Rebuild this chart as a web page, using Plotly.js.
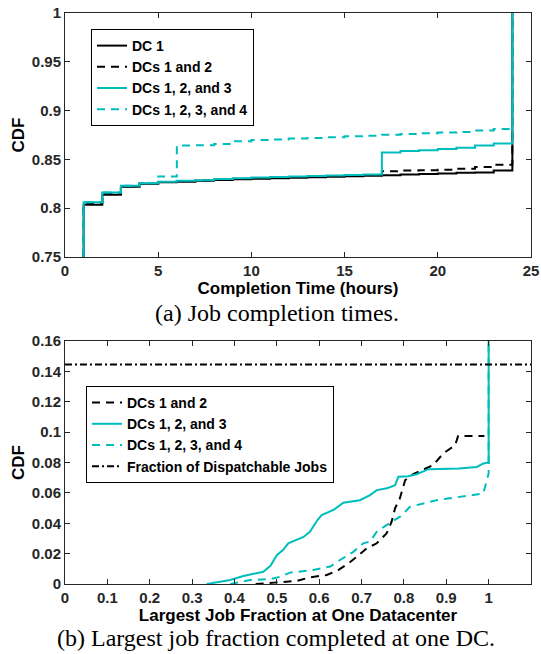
<!DOCTYPE html>
<html>
<head>
<meta charset="utf-8">
<script src="https://cdn.plot.ly/plotly-3.0.1.min.js"></script>
<style>
html,body{margin:0;padding:0;background:#fff;}
#chart{width:541px;height:654px;}
</style>
</head>
<body>
<div id="chart"></div>
<script>
// ---------- (a) Job completion times ----------
var hoursA = [1, 1, 2, 3, 4, 5, 6, 7, 8, 9, 10, 11, 12, 13, 14, 15, 16, 17, 18, 19, 20, 21, 22, 23, 24, 24];
var dc1 = [0.75, 0.8036, 0.8138, 0.8220, 0.8250, 0.8265, 0.8272, 0.8280, 0.8290, 0.8297, 0.8303, 0.8308, 0.8313, 0.8318, 0.8323, 0.8328, 0.8332, 0.8338, 0.8345, 0.8350, 0.8356, 0.8362, 0.8367, 0.8386, 0.8386, 1.0];
var dcs12 = [0.75, 0.8050, 0.8150, 0.8225, 0.8252, 0.8268, 0.8278, 0.8285, 0.8295, 0.8302, 0.8310, 0.8315, 0.8320, 0.8325, 0.8330, 0.8335, 0.8340, 0.8378, 0.8385, 0.8390, 0.8394, 0.8405, 0.8422, 0.8445, 0.8453, 1.0];
var dcs123 = [0.75, 0.8060, 0.8160, 0.8230, 0.8255, 0.8270, 0.8280, 0.8286, 0.8300, 0.8308, 0.8315, 0.8320, 0.8325, 0.8330, 0.8335, 0.8340, 0.8345, 0.8570, 0.8585, 0.8595, 0.8607, 0.8620, 0.8643, 0.8662, 0.8668, 1.0];
var dcs1234 = [0.75, 0.8060, 0.8160, 0.8230, 0.8255, 0.8326, 0.8643, 0.8645, 0.8658, 0.8685, 0.8699, 0.8705, 0.8715, 0.8720, 0.8727, 0.8736, 0.8742, 0.8753, 0.8760, 0.8768, 0.8775, 0.8782, 0.8795, 0.8811, 0.8815, 1.0];

// ---------- (b) Largest job fraction at one DC ----------
var fracB12 = [0.45, 0.5036, 0.547, 0.578, 0.618, 0.645, 0.669, 0.689, 0.712, 0.736, 0.759, 0.771, 0.779, 0.79, 0.803, 0.822, 0.845, 0.869, 0.893, 0.921, 0.928, 0.99];
var cdfB12 = [0, 0.0009, 0.002, 0.0044, 0.0059, 0.0092, 0.0136, 0.018, 0.0235, 0.0268, 0.0333, 0.041, 0.0498, 0.056, 0.0684, 0.0723, 0.075, 0.0783, 0.086, 0.0914, 0.0975, 0.0975];
var fracB123 = [0.3345, 0.36, 0.39, 0.421, 0.468, 0.485, 0.5, 0.515, 0.527, 0.563, 0.578, 0.596, 0.606, 0.635, 0.657, 0.696, 0.72, 0.736, 0.76, 0.779, 0.787, 0.81, 0.83, 0.858, 0.93, 0.972, 0.9876, 1.0, 1.0];
var cdfB123 = [0, 0.001, 0.0026, 0.0053, 0.0081, 0.012, 0.019, 0.0225, 0.0268, 0.031, 0.0344, 0.0421, 0.0454, 0.049, 0.0535, 0.0552, 0.0585, 0.0618, 0.063, 0.0651, 0.0706, 0.071, 0.0723, 0.0756, 0.076, 0.0771, 0.0794, 0.08, 0.16];
var fracB1234 = [0.39, 0.437, 0.484, 0.508, 0.531, 0.586, 0.626, 0.649, 0.68, 0.704, 0.72, 0.736, 0.759, 0.791, 0.807, 0.814, 0.877, 0.95, 0.9875, 1.0, 1.0];
var cdfB1234 = [0, 0.0026, 0.0032, 0.0048, 0.0075, 0.0092, 0.0115, 0.0158, 0.021, 0.0268, 0.028, 0.0344, 0.0388, 0.0443, 0.0487, 0.0508, 0.0552, 0.058, 0.0596, 0.0728, 0.16];
var dispX = [0, 1.1];
var dispY = [0.1445, 0.1445];

var namesA = ['DC 1', 'DCs 1 and 2', 'DCs 1, 2, and 3', 'DCs 1, 2, 3, and 4'];
var namesB = ['DCs 1 and 2', 'DCs 1, 2, and 3', 'DCs 1, 2, 3, and 4', 'Fraction of Dispatchable Jobs'];
var xTicksA = [0, 5, 10, 15, 20, 25];
var yTicksA = [0.75, 0.8, 0.85, 0.9, 0.95, 1];
var xTicksB = [0, 0.1, 0.2, 0.3, 0.4, 0.5, 0.6, 0.7, 0.8, 0.9, 1, 1.1];
var yTicksB = [0, 0.02, 0.04, 0.06, 0.08, 0.1, 0.12, 0.14, 0.16];

var CYAN = '#00BDBD';
var BLACK = '#000000';
var DASH = '8px,6px';

var traces = [
  {x: hoursA, y: dc1, name: namesA[0], mode: 'lines', line: {color: BLACK, width: 2, shape: 'hv'}, xaxis: 'x', yaxis: 'y', legend: 'legend'},
  {x: hoursA, y: dcs12, name: namesA[1], mode: 'lines', line: {color: BLACK, width: 2, shape: 'hv', dash: DASH}, xaxis: 'x', yaxis: 'y', legend: 'legend'},
  {x: hoursA, y: dcs123, name: namesA[2], mode: 'lines', line: {color: CYAN, width: 2, shape: 'hv'}, xaxis: 'x', yaxis: 'y', legend: 'legend'},
  {x: hoursA, y: dcs1234, name: namesA[3], mode: 'lines', line: {color: CYAN, width: 2, shape: 'hv', dash: DASH}, xaxis: 'x', yaxis: 'y', legend: 'legend'},
  {x: fracB12, y: cdfB12, name: namesB[0], mode: 'lines', line: {color: BLACK, width: 2, dash: DASH}, xaxis: 'x2', yaxis: 'y2', legend: 'legend2'},
  {x: fracB123, y: cdfB123, name: namesB[1], mode: 'lines', line: {color: CYAN, width: 2}, xaxis: 'x2', yaxis: 'y2', legend: 'legend2'},
  {x: fracB1234, y: cdfB1234, name: namesB[2], mode: 'lines', line: {color: CYAN, width: 2, dash: DASH}, xaxis: 'x2', yaxis: 'y2', legend: 'legend2'},
  {x: dispX, y: dispY, name: namesB[3], mode: 'lines', line: {color: BLACK, width: 2, dash: '7px,3px,2px,3px'}, xaxis: 'x2', yaxis: 'y2', legend: 'legend2'}
];

var FAM = 'Liberation Sans, Arial, Helvetica, sans-serif';
var tickFont = {family: FAM, size: 15, color: '#262626', weight: 'bold'};
var titleFont = {family: FAM, size: 17, color: '#000', weight: 'bold'};
var AXC = '#262626';

function xAxis(anchor, range, ticks, title) {
  return {
    domain: [65/541, 531/541], anchor: anchor, range: range,
    tickmode: 'array', tickvals: ticks, ticks: 'inside', ticklen: 5, tickwidth: 1, tickcolor: AXC,
    showline: true, linecolor: AXC, linewidth: 1, mirror: 'ticks',
    showgrid: false, zeroline: false, tickfont: tickFont,
    title: {text: title, font: titleFont, standoff: 1}
  };
}
function yAxis(anchor, domain, range, ticks) {
  return {
    domain: domain, anchor: anchor, range: range,
    tickmode: 'array', tickvals: ticks, ticks: 'inside', ticklen: 5, tickwidth: 1, tickcolor: AXC,
    showline: true, linecolor: AXC, linewidth: 1, mirror: 'ticks',
    showgrid: false, zeroline: false, tickfont: tickFont,
    title: {text: 'CDF', font: titleFont, standoff: 2}
  };
}

var legendBase = {
  xanchor: 'left', yanchor: 'top', bgcolor: '#fff', bordercolor: '#000', borderwidth: 1,
  font: {family: FAM, size: 14, color: '#000', weight: 'bold'}, tracegroupgap: 0, itemwidth: 30
};

var layout = {
  width: 541, height: 654,
  margin: {l: 0, r: 0, t: 0, b: 0},
  paper_bgcolor: '#fff', plot_bgcolor: '#fff',
  xaxis: xAxis('y', [0, 25], xTicksA, 'Completion Time (hours)'),
  yaxis: yAxis('x', [1 - 257/654, 1 - 13/654], [0.75, 1], yTicksA),
  xaxis2: xAxis('y2', [0, 1.1], xTicksB, 'Largest Job Fraction at One Datacenter'),
  yaxis2: yAxis('x2', [1 - 584/654, 1 - 341/654], [0, 0.16], yTicksB),
  legend: Object.assign({}, legendBase, {x: 91/541, y: 1 - 29/654}),
  legend2: Object.assign({}, legendBase, {x: 86/541, y: 1 - 386/654}),
  annotations: [
    {text: '(a) Job completion times.', xref: 'paper', yref: 'paper', x: 277/541, y: 1 - 313/654,
     xanchor: 'center', yanchor: 'middle', showarrow: false,
     font: {family: 'Liberation Serif, Times New Roman, serif', size: 24, color: '#000'}},
    {text: '(b) Largest job fraction completed at one DC.', xref: 'paper', yref: 'paper', x: 276/541, y: 1 - 638/654,
     xanchor: 'center', yanchor: 'middle', showarrow: false,
     font: {family: 'Liberation Serif, Times New Roman, serif', size: 24, color: '#000'}}
  ],
  showlegend: true
};

Plotly.newPlot('chart', traces, layout, {staticPlot: true, displayModeBar: false});
</script>
</body>
</html>
